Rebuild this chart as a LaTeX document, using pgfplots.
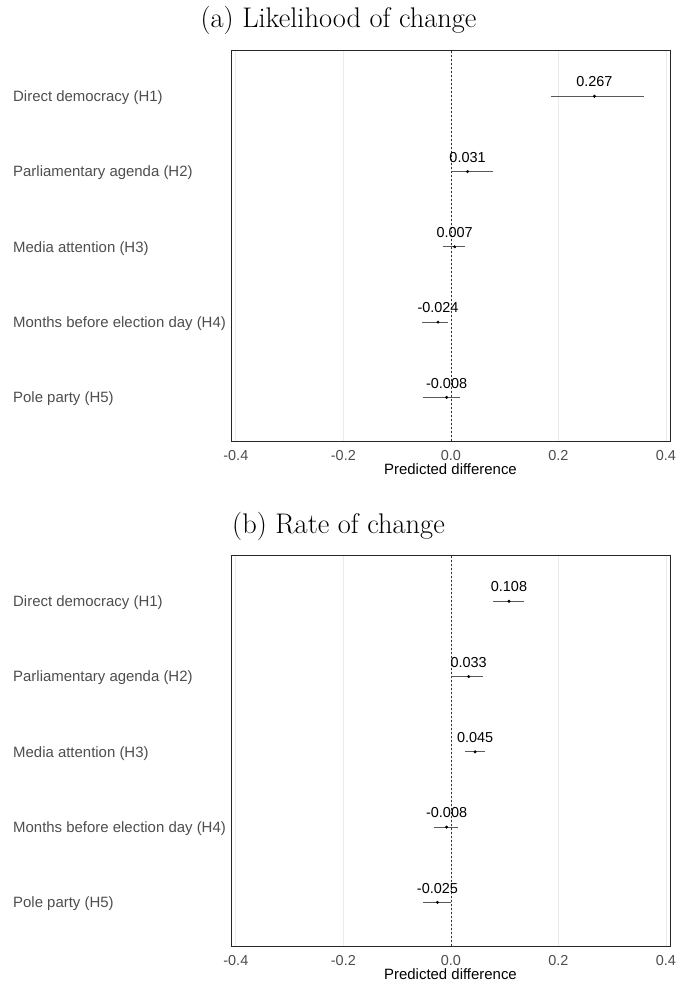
\documentclass[border=0pt]{standalone}
\usepackage{fontspec}
\usepackage{pgfplots}
\pgfplotsset{compat=1.18}
\usepackage{pgfplotstable}
\newfontfamily\arial{Liberation Sans}
\definecolor{lab}{HTML}{4D4D4D}
\definecolor{bar}{HTML}{595959}
\definecolor{grd}{HTML}{EBEBEB}

\pgfplotstableread{
pos est em ep lab
5 0.267 0.081 0.092 0.267
4 0.031 0.030 0.047 0.031
3 0.007 0.021 0.020 0.007
2 -0.024 0.029 0.018 -0.024
1 -0.008 0.0435 0.0247 -0.008
}\tabA

\pgfplotstableread{
pos est em ep lab
5 0.108 0.030 0.028 0.108
4 0.033 0.032 0.027 0.033
3 0.045 0.0195 0.0177 0.045
2 -0.008 0.023 0.022 -0.008
1 -0.025 0.0265 0.026 -0.025
}\tabB

\pgfplotsset{panel/.style={
  scale only axis, width=439bp, height=391bp,
  xmin=-0.409, xmax=0.4075, ymin=0.42, ymax=5.615,
  xtick={-0.4,-0.2,0,0.2,0.4}, xticklabels={-0.4,-0.2,0.0,0.2,0.4},
  ytick={1,2,3,4,5},
  yticklabels={Pole party (H5),Months before election day (H4),Media attention (H3),Parliamentary agenda (H2),Direct democracy (H1)},
  major tick length=0pt,
  xmajorgrids, major grid style={color=grd, line width=0.8bp},
  axis line style={line width=0.8bp, color=black!85},
  x tick label style={font=\arial\fontsize{14.5}{17}\selectfont, text=lab, anchor=north, inner sep=0pt, yshift=-9bp},
  y tick label style={font=\arial\fontsize{15}{18}\selectfont, text=lab, anchor=west, inner sep=0pt, xshift=-218bp, yshift=-1.5bp},
  xlabel={Predicted difference},
  xlabel style={font=\arial\fontsize{15}{18}\selectfont, text=black, at={(axis description cs:0.5,0)}, anchor=base, inner sep=0pt, yshift=-33bp},
  clip=false,
}}

\pgfplotsset{est/.style={
  only marks, mark=*, mark size=1.3bp, color=black,
  mark options={draw=black, fill=black},
  point meta=explicit symbolic,
  nodes near coords,
  nodes near coords style={font=\arial\fontsize{14.5}{17}\selectfont, text=black, anchor=south, inner sep=0pt, yshift=9bp},
  error bars/.cd, x dir=both, x explicit, error mark=none,
  error bar style={color=bar, line width=0.8bp},
}}

\begin{document}
\begin{tikzpicture}
\path[use as bounding box] (0,0) rectangle (677bp,-985bp);
\node[anchor=base, font=\fontsize{28.5}{32}\selectfont] at (338.5bp,-27bp) {(a) Likelihood of change};
\node[anchor=base, font=\fontsize{28.5}{32}\selectfont] at (338.5bp,-533bp) {(b) Rate of change};

\begin{axis}[panel, at={(231bp,-441bp)}, anchor=south west]
\draw[black!80, line width=0.6bp, dash pattern=on 2.5bp off 1.5bp] (axis cs:0,0.42) -- (axis cs:0,5.615);
\addplot[est] table[x=est, y=pos, meta=lab, x error minus=em, x error plus=ep] {\tabA};
\end{axis}

\begin{axis}[panel, at={(231bp,-946bp)}, anchor=south west]
\draw[black!80, line width=0.6bp, dash pattern=on 2.5bp off 1.5bp] (axis cs:0,0.42) -- (axis cs:0,5.615);
\addplot[est] table[x=est, y=pos, meta=lab, x error minus=em, x error plus=ep] {\tabB};
\end{axis}
\end{tikzpicture}
\end{document}
